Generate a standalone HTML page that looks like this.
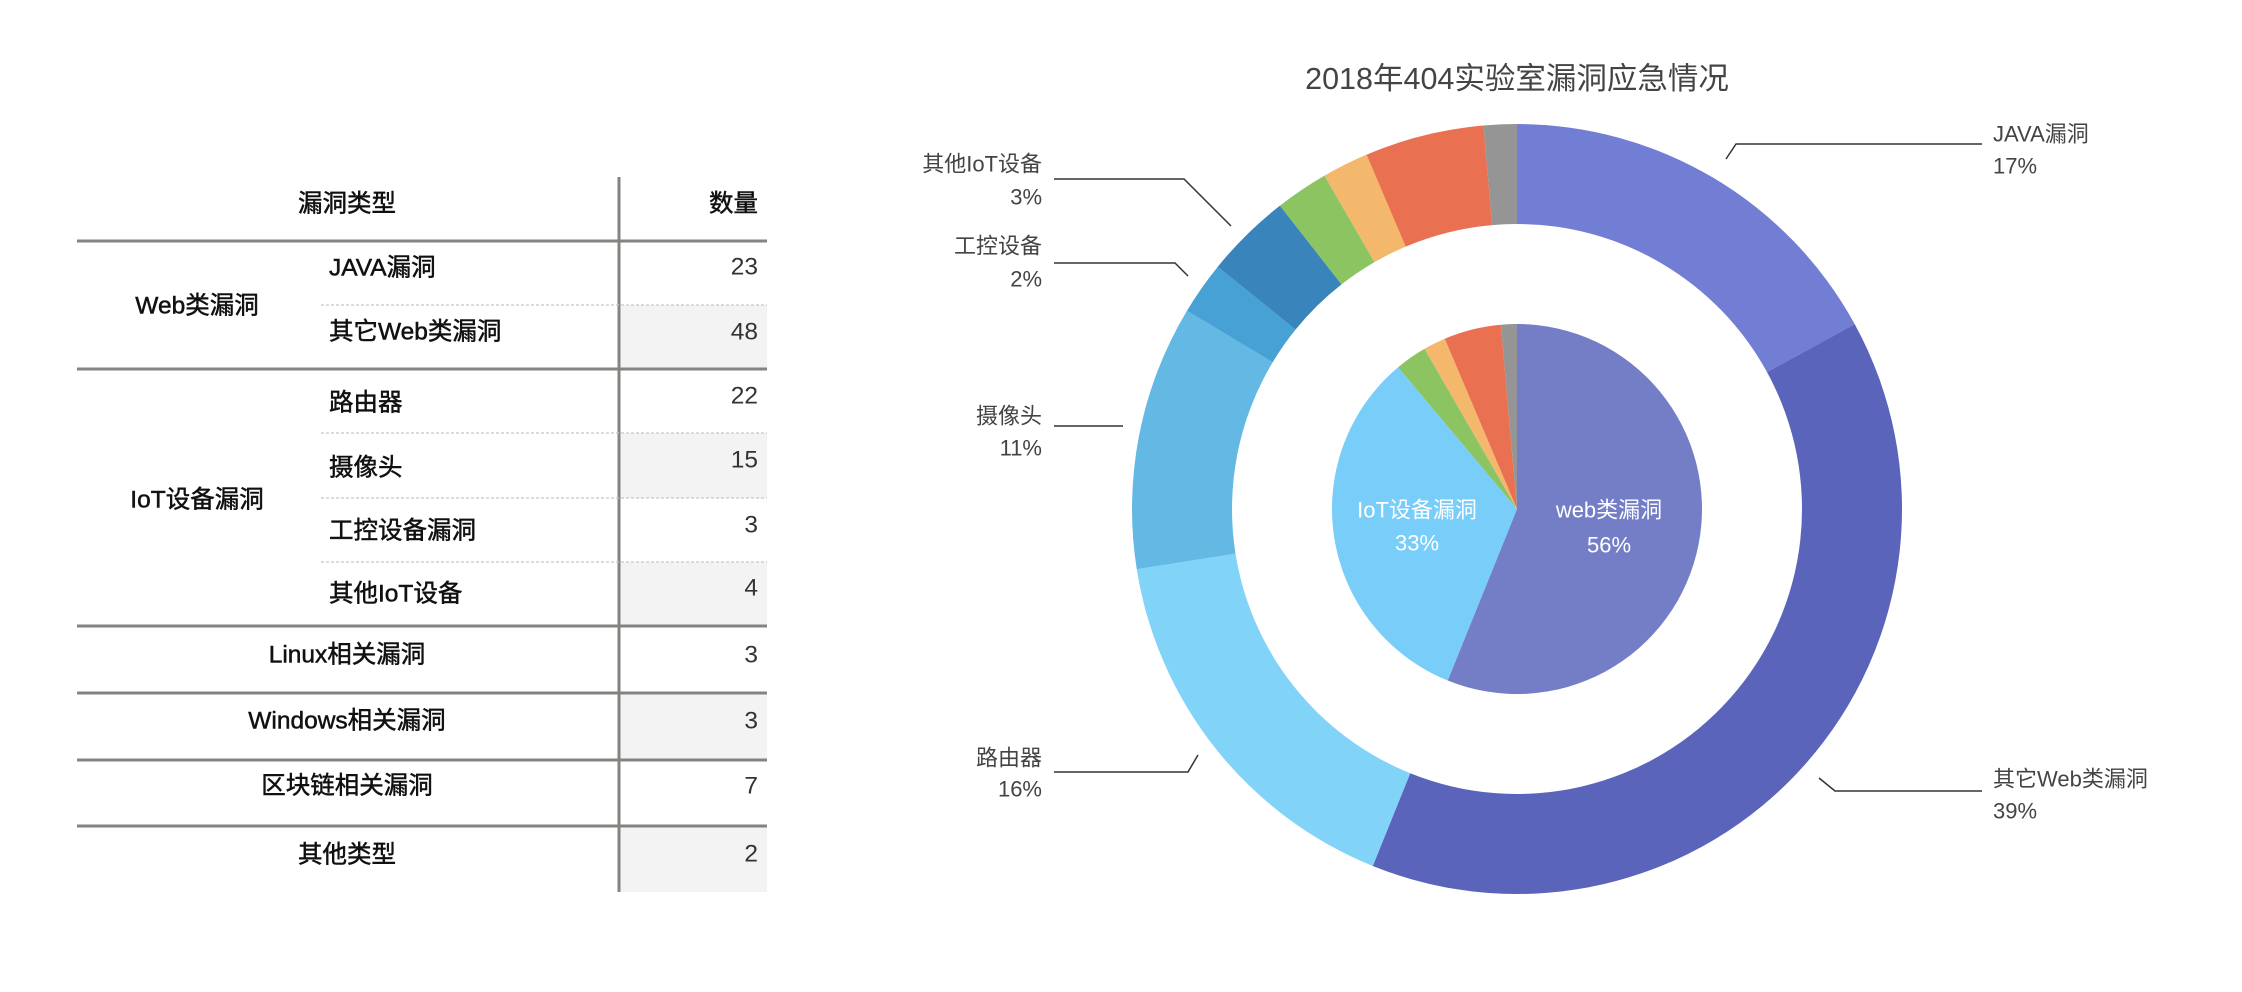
<!DOCTYPE html>
<html><head><meta charset="utf-8"><style>
html,body{margin:0;padding:0;background:#fff;}
svg{display:block;font-family:"Liberation Sans","Noto Sans CJK SC",sans-serif;}
</style></head><body>
<svg id="s" width="2242" height="992" viewBox="0 0 2242 992" xmlns="http://www.w3.org/2000/svg">
<g fill="#f3f3f3">
<rect x="620" y="305" width="147" height="64"/>
<rect x="620" y="433" width="147" height="65"/>
<rect x="620" y="562" width="147" height="63"/>
<rect x="620" y="694" width="147" height="65"/>
<rect x="620" y="827" width="147" height="65"/>
</g>
<g stroke="#858380" stroke-width="3">
<line x1="77" y1="241" x2="767" y2="241"/>
<line x1="77" y1="369" x2="767" y2="369"/>
<line x1="77" y1="626" x2="767" y2="626"/>
<line x1="77" y1="693" x2="767" y2="693"/>
<line x1="77" y1="760" x2="767" y2="760"/>
<line x1="77" y1="826" x2="767" y2="826"/>
<line x1="619" y1="177" x2="619" y2="892"/>
</g>
<g stroke="#c8c8c8" stroke-width="1.2" stroke-dasharray="3,2">
<line x1="321" y1="305" x2="767" y2="305"/>
<line x1="321" y1="433" x2="767" y2="433"/>
<line x1="321" y1="498" x2="767" y2="498"/>
<line x1="321" y1="562" x2="767" y2="562"/>
</g>
<g font-size="24.5" fill="#111" stroke="#111" stroke-width="0.5" dominant-baseline="central">
<text x="347" y="204" text-anchor="middle">漏洞类型</text>
<text x="758" y="204" text-anchor="end">数量</text>
<text x="197" y="306" text-anchor="middle">Web类漏洞</text>
<text x="197" y="500" text-anchor="middle">IoT设备漏洞</text>
<text x="329" y="268">JAVA漏洞</text>
<text x="329" y="332">其它Web类漏洞</text>
<text x="329" y="403">路由器</text>
<text x="329" y="468">摄像头</text>
<text x="329" y="531">工控设备漏洞</text>
<text x="329" y="594">其他IoT设备</text>
<text x="347" y="655" text-anchor="middle">Linux相关漏洞</text>
<text x="347" y="721" text-anchor="middle">Windows相关漏洞</text>
<text x="347" y="786" text-anchor="middle">区块链相关漏洞</text>
<text x="347" y="855" text-anchor="middle">其他类型</text>
</g>
<g font-size="24.5" fill="#333" text-anchor="end" dominant-baseline="central">
<text x="758" y="267">23</text>
<text x="758" y="332">48</text>
<text x="758" y="396">22</text>
<text x="758" y="460">15</text>
<text x="758" y="525">3</text>
<text x="758" y="588">4</text>
<text x="758" y="655">3</text>
<text x="758" y="721">3</text>
<text x="758" y="786">7</text>
<text x="758" y="854">2</text>
</g>
<text x="1517" y="79" font-size="30.5" fill="#444" text-anchor="middle" dominant-baseline="central">2018年404实验室漏洞应急情况</text>
<g id="pie"></g>
<g stroke="#333" stroke-width="1.5" fill="none">
<polyline points="1726,159 1736,144 1982,144"/>
<polyline points="1819,778 1835,791 1982,791"/>
<polyline points="1054,179 1184,179 1231,226"/>
<polyline points="1054,263 1175,263 1188,276"/>
<polyline points="1054,426 1123,426"/>
<polyline points="1054,772 1188,772 1198,755"/>
</g>
<g font-size="22" fill="#444" dominant-baseline="central">
<text x="1993" y="134">JAVA漏洞</text>
<text x="1993" y="166">17%</text>
<text x="1993" y="779">其它Web类漏洞</text>
<text x="1993" y="811">39%</text>
</g>
<g font-size="22" fill="#444" dominant-baseline="central" text-anchor="end">
<text x="1042" y="164">其他IoT设备</text>
<text x="1042" y="197">3%</text>
<text x="1042" y="246">工控设备</text>
<text x="1042" y="279">2%</text>
<text x="1042" y="416">摄像头</text>
<text x="1042" y="448">11%</text>
<text x="1042" y="758">路由器</text>
<text x="1042" y="789">16%</text>
</g>
<g font-size="22" fill="#fff" dominant-baseline="central" text-anchor="middle">
<text x="1417" y="510">IoT设备漏洞</text>
<text x="1417" y="543">33%</text>
<text x="1609" y="510">web类漏洞</text>
<text x="1609" y="545">56%</text>
</g>
</svg>
<script>
(function(){
var cx=1517,cy=509,g=document.getElementById('pie');
function pt(r,a){a=a*Math.PI/180;return [cx+r*Math.sin(a),cy-r*Math.cos(a)];}
function arc(r0,r1,a0,a1,c){
 var p1=pt(r1,a0),p2=pt(r1,a1),lg=(a1-a0)>180?1:0,d;
 if(r0>0){var p3=pt(r0,a1),p4=pt(r0,a0);
  d='M'+p1+' A'+r1+','+r1+' 0 '+lg+' 1 '+p2+' L'+p3+' A'+r0+','+r0+' 0 '+lg+' 0 '+p4+'Z';}
 else d='M'+cx+','+cy+' L'+p1+' A'+r1+','+r1+' 0 '+lg+' 1 '+p2+'Z';
 var e=document.createElementNS('http://www.w3.org/2000/svg','path');
 e.setAttribute('d',d);e.setAttribute('fill',c);g.appendChild(e);}
var outer=[[0,61.3,'#717ed4'],[61.3,202,'#5a64bb'],[202,261,'#82d3f8'],[261,301,'#63b8e4'],[301,309,'#47a1d4'],[309,322,'#3884bb'],[322,330,'#8dc462'],[330,337,'#f3b86c'],[337,355,'#ea7052'],[355,360,'#959595']];
outer.forEach(function(s){arc(285,385,s[0],s[1],s[2]);});
var inner=[[0,202,'#737ec6'],[202,320,'#78cdf9'],[320,330,'#8dc462'],[330,337,'#f3b86c'],[337,355,'#ea7052'],[355,360,'#959595']];
inner.forEach(function(s){arc(0,185,s[0],s[1],s[2]);});
})();
</script>
</body></html>
